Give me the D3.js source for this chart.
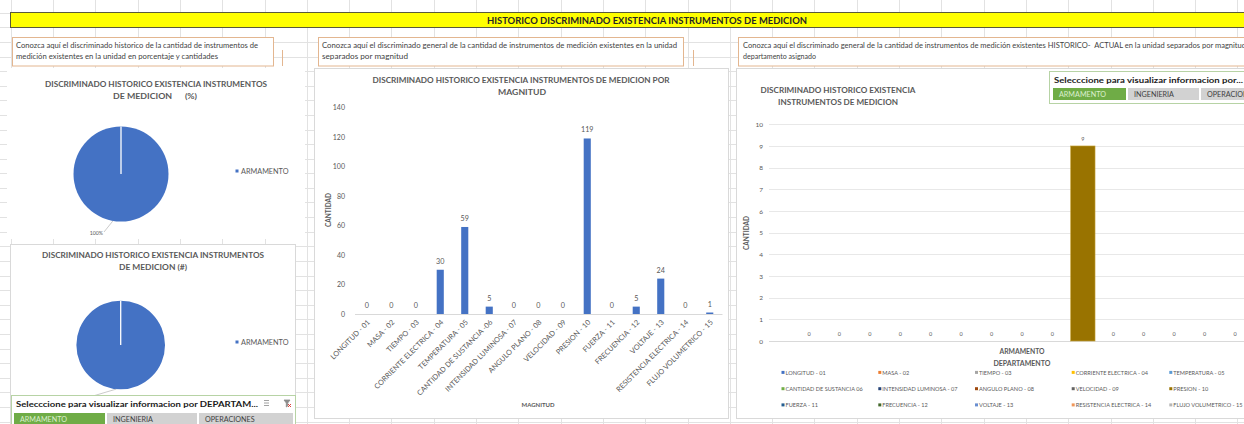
<!DOCTYPE html>
<html><head><meta charset="utf-8">
<script src="https://cdn.jsdelivr.net/npm/d3@7"></script>
<style>
html,body{margin:0;padding:0;background:#fff;overflow:hidden}
svg{display:block;font-family:Lato,"Liberation Sans",sans-serif}
svg text{white-space:pre}
</style></head><body>
<svg id="c" width="1244" height="424"></svg>
<script>
// ---------- DATA ----------
const magnitudes = ["LONGITUD - 01","MASA - 02","TIEMPO - 03","CORRIENTE ELECTRICA - 04","TEMPERATURA - 05","CANTIDAD DE SUSTANCIA -06","INTENSIDAD LUMINOSA - 07","ANGULO PLANO - 08","VELOCIDAD - 09","PRESION - 10","FUERZA - 11","FRECUENCIA - 12","VOLTAJE - 13","RESISTENCIA ELECTRICA - 14","FLUJO VOLUMETRICO - 15"];
const magnitudValues = [0,0,0,30,59,5,0,0,0,119,0,5,24,0,1];
const midTicks = [0,20,40,60,80,100,120,140];

const departamentos = ["ARMAMENTO"];
const seriesLabels = ["LONGITUD - 01","MASA - 02","TIEMPO - 03","CORRIENTE ELECTRICA - 04","TEMPERATURA - 05","CANTIDAD DE SUSTANCIA 06","INTENSIDAD LUMINOSA - 07","ANGULO PLANO - 08","VELOCIDAD - 09","PRESION - 10","FUERZA - 11","FRECUENCIA - 12","VOLTAJE - 13","RESISTENCIA ELECTRICA - 14","FLUJO VOLUMETRICO - 15"];
const deptValues = [0,0,0,0,0,0,0,0,0,9,0,0,0,0,0];
const rightTicks = [0,1,2,3,4,5,6,7,8,9,10];
const seriesColors = ["#4472C4","#ED7D31","#A5A5A5","#FFC000","#5B9BD5","#70AD47","#264478","#9E480E","#636363","#997300","#255E91","#43682B","#698ED0","#F1975A","#B7B7B7"];

const pieLabels = ["ARMAMENTO"];
const piePct = [100];
const pieCount = [243];
const slicerItems = ["ARMAMENTO","INGENIERIA","OPERACIONES"];

// ---------- HELPERS ----------
const svg = d3.select("#c");
function T(sel, x, y, s, o = {}) {
  const t = sel.append("text").attr("x", x).attr("y", y).text(s)
    .attr("font-size", o.size || 7).attr("fill", o.fill || "#595959")
    .attr("text-anchor", o.anchor || "start");
  if (o.bold) t.attr("font-weight", "bold");
  if (o.len) t.attr("textLength", o.len).attr("lengthAdjust", "spacingAndGlyphs");
  return t;
}

// ---------- SPREADSHEET GRID ----------
const grid = svg.append("g").attr("stroke", "#e2e2e2").attr("stroke-width", 1);
d3.range(0, 31).forEach(k => {
  const x = Math.round(10.7 + 42.3 * k) + 0.5;
  grid.append("line").attr("x1", x).attr("x2", x).attr("y1", 0).attr("y2", 424);
});
d3.range(-1, 30).forEach(k => {
  const y = Math.round(12.7 + 14.6 * k) + 0.5;
  grid.append("line").attr("x1", 0).attr("x2", 1244).attr("y1", y).attr("y2", y);
});

// ---------- BANNER ----------
svg.append("rect").attr("x", 10.5).attr("y", 12.5).attr("width", 1240).attr("height", 15)
  .attr("fill", "#ffff00").attr("stroke", "#5a5a3a").attr("stroke-width", 1);
T(svg, 647, 23.5, "HISTORICO DISCRIMINADO EXISTENCIA INSTRUMENTOS DE MEDICION",
  { size: 9.2, bold: true, fill: "#262626", anchor: "middle", len: 320 });

// ---------- TEXT BOXES ----------
const boxStroke = "#e3b690";
[[12.5, 261], [318.5, 365], [738.5, 520]].forEach(([x, w]) => {
  svg.append("rect").attr("x", x).attr("y", 37.5).attr("width", w).attr("height", 28.5)
    .attr("fill", "#fff").attr("stroke", boxStroke);
});
svg.append("line").attr("x1", 282.5).attr("x2", 282.5).attr("y1", 50).attr("y2", 66).attr("stroke", boxStroke);
svg.append("line").attr("x1", 693.5).attr("x2", 693.5).attr("y1", 50).attr("y2", 66).attr("stroke", boxStroke);
const bt = "#3f3f3f";
T(svg, 16, 47.5, "Conozca aquí el discriminado historico de la cantidad de instrumentos de", { size: 7.5, fill: bt, len: 242 });
T(svg, 16, 59, "medición existentes en la unidad en porcentaje y cantidades", { size: 7.5, fill: bt, len: 202 });
T(svg, 322, 47.5, "Conozca aquí el discriminado general de la cantidad de instrumentos de medición existentes en la unidad", { size: 7.5, fill: bt, len: 355 });
T(svg, 322, 59, "separados por magnitud", { size: 7.5, fill: bt, len: 86 });
T(svg, 743, 47.5, "Conozca aquí el discriminado general de la cantidad de instrumentos de medición existentes HISTORICO-  ACTUAL en la unidad separados por magnitud", { size: 7.5, fill: bt, len: 503 });
T(svg, 743, 59, "departamento asignado", { size: 7.5, fill: bt, len: 73 });

// ---------- PANELS ----------
svg.append("rect").attr("x", 7).attr("y", 68).attr("width", 298).attr("height", 171).attr("fill", "#fff");
svg.append("rect").attr("x", 10.5).attr("y", 244.5).attr("width", 285).attr("height", 185).attr("fill", "#fff").attr("stroke", "#d9d9d9");
svg.append("rect").attr("x", 314.5).attr("y", 68.5).attr("width", 414).attr("height", 350).attr("fill", "#fff").attr("stroke", "#d9d9d9");
svg.append("rect").attr("x", 736.5).attr("y", 68.5).attr("width", 520).attr("height", 350).attr("fill", "#fff").attr("stroke", "#d9d9d9");

// ---------- PIE CHARTS ----------
function drawPie(cx, cy, r, values, titleLines, legendY) {
  const g = svg.append("g").attr("transform", `translate(${cx},${cy})`);
  const arcs = d3.pie().sort(null)(values);
  const arc = d3.arc().innerRadius(0).outerRadius(r);
  g.selectAll("path.s").data(arcs).join("path").attr("class", "s")
    .attr("d", arc).attr("fill", (d, i) => seriesColors[i]);
  g.selectAll("line.edge").data(arcs).join("line").attr("class", "edge")
    .attr("x1", 0).attr("y1", 0)
    .attr("x2", d => r * Math.sin(d.startAngle)).attr("y2", d => -r * Math.cos(d.startAngle))
    .attr("stroke", "#fff").attr("stroke-width", 1.3);
  titleLines.forEach(([s, x, y, len]) => T(svg, x, y, s, { size: 7.6, bold: true, fill: "#595959", anchor: "middle", len }));
  pieLabels.forEach((lab, i) => {
    svg.append("rect").attr("x", 235.5).attr("y", legendY - 3.5).attr("width", 3).attr("height", 3).attr("fill", seriesColors[i]);
    T(svg, 241, legendY + 0.5, lab, { size: 7.5, fill: "#595959", len: 47.5 });
  });
  return { g, arcs, r };
}
drawPie(121, 174, 47.5, piePct,
  [["DISCRIMINADO HISTORICO EXISTENCIA INSTRUMENTOS", 156, 86.5, 222], ["DE MEDICION      (%)", 155, 98.5, 84]], 173);
{
  const a = Math.PI + 0.17;
  svg.append("polyline").attr("points", `${121 + 47.5 * Math.sin(a)},${174 - 47.5 * Math.cos(a)} 104,232`)
    .attr("fill", "none").attr("stroke", "#a6a6a6").attr("stroke-width", 0.6);
  T(svg, 103, 234.5, piePct[0] + "%", { size: 5.2, fill: "#595959", anchor: "end" });
}
drawPie(120.7, 345, 44.3, pieCount,
  [["DISCRIMINADO HISTORICO EXISTENCIA INSTRUMENTOS", 153, 258, 222], ["DE MEDICION (#)", 153, 269.5, 68]], 344);
{
  const a = Math.PI + 0.1;
  svg.append("line").attr("x1", 120.7 + 44.3 * Math.sin(a)).attr("y1", 345 - 44.3 * Math.cos(a))
    .attr("x2", 93).attr("y2", 396).attr("stroke", "#a6a6a6").attr("stroke-width", 0.6);
}

// ---------- SLICERS ----------
function slicer(x, y, w, h, header, headerLen, btns, icons) {
  svg.append("rect").attr("x", x + 0.5).attr("y", y + 0.5).attr("width", w).attr("height", h)
    .attr("fill", "#fff").attr("stroke", "#b7d3a5").attr("stroke-width", 1);
  T(svg, x + 5, y + 11.5, header, { size: 8, bold: true, fill: "#1a1a1a", len: headerLen });
  btns.forEach(([bx, bw, by, bh], i) => {
    svg.append("rect").attr("x", bx).attr("y", by).attr("width", bw).attr("height", bh)
      .attr("fill", i === 0 ? "#6fac46" : "#d2d2d2");
    T(svg, bx + 6, by + 8.5, slicerItems[i], { size: 7.2, fill: i === 0 ? "#dbefce" : "#404040" });
  });
  if (icons) {
    const ig = svg.append("g").attr("stroke", "#8c8c8c").attr("stroke-width", 0.8);
    [0, 2.5, 5].forEach(d => ig.append("line").attr("x1", 264).attr("x2", 269).attr("y1", 400.5 + d).attr("y2", 400.5 + d));
    ig.append("path").attr("d", "M284,400 h6 l-2.3,3 v3 l-1.4,1 v-4 z").attr("fill", "#8c8c8c");
    svg.append("path").attr("d", "M288,404 l3,3 M291,404 l-3,3").attr("stroke", "#d9342b").attr("stroke-width", 0.9);
  }
}
slicer(11, 395, 284, 40, "Selecccione para visualizar informacion por DEPARTAM...", 242,
  [[14, 91, 413, 14], [107, 90, 413, 14], [199, 94, 413, 14]], true);
slicer(1049, 71, 210, 32, "Selecccione para visualizar informacion por...", 189,
  [[1053, 73, 88, 12], [1128, 71, 88, 12], [1201, 73, 88, 12]], false);

// ---------- MIDDLE BAR CHART ----------
const xM = d3.scaleBand().domain(magnitudes).range([354.5, 722]).paddingInner(0.71).paddingOuter(0.355);
const yM = d3.scaleLinear().domain([0, 140]).range([314, 107.5]);
T(svg, 521, 82.5, "DISCRIMINADO HISTORICO EXISTENCIA INSTRUMENTOS DE MEDICION POR", { size: 7.6, bold: true, anchor: "middle", len: 297 });
T(svg, 522, 94.5, "MAGNITUD", { size: 7.6, bold: true, anchor: "middle", len: 48 });

const yAxM = svg.append("g").attr("transform", "translate(348,0)")
  .call(d3.axisLeft(yM).tickValues(midTicks).tickSize(0).tickPadding(3));
yAxM.select(".domain").remove();
yAxM.selectAll("text").attr("font-size", 7).attr("fill", "#595959").attr("font-family", "Lato, sans-serif");

const xAxM = svg.append("g").attr("transform", "translate(0,314)")
  .call(d3.axisBottom(xM).tickSize(0).tickSizeOuter(0));
xAxM.select(".domain").attr("stroke", "#d9d9d9");
xAxM.selectAll("text").attr("font-size", 7.3).attr("fill", "#595959").attr("font-family", "Lato, sans-serif")
  .attr("text-anchor", "end").attr("x", 0).attr("y", 0).attr("dy", "0.35em")
  .attr("transform", "translate(2,7) rotate(-45)");

svg.append("g").selectAll("rect").data(magnitudValues).join("rect")
  .attr("x", (d, i) => xM(magnitudes[i])).attr("width", xM.bandwidth())
  .attr("y", d => yM(d)).attr("height", d => 314 - yM(d)).attr("fill", "#4472C4");
svg.append("g").selectAll("text").data(magnitudValues).join("text")
  .attr("x", (d, i) => xM(magnitudes[i]) + xM.bandwidth() / 2).attr("y", d => yM(d) - 6)
  .attr("text-anchor", "middle").attr("font-size", 7.2).attr("fill", "#595959").text(d => d);

svg.append("text").attr("transform", "translate(330.5,210) rotate(-90)").attr("text-anchor", "middle")
  .attr("font-size", 6.5).attr("font-weight", "bold").attr("fill", "#595959").text("CANTIDAD");
T(svg, 538, 407, "MAGNITUD", { size: 6, bold: true, anchor: "middle", len: 33 });

// ---------- RIGHT GROUPED BAR CHART ----------
const x0 = d3.scaleBand().domain(departamentos).range([769, 1275]).paddingOuter(0.047);
const x1 = d3.scaleBand().domain(seriesLabels).range([0, x0.bandwidth()]).padding(0.2);
const yR = d3.scaleLinear().domain([0, 10]).range([341, 124.3]);

T(svg, 838, 92.5, "DISCRIMINADO HISTORICO EXISTENCIA", { size: 7.6, bold: true, anchor: "middle", len: 155 });
T(svg, 838, 104.5, "INSTRUMENTOS DE MEDICION", { size: 7.6, bold: true, anchor: "middle", len: 120 });

svg.append("g").selectAll("line").data(rightTicks).join("line")
  .attr("x1", 769).attr("x2", 1244).attr("y1", d => Math.round(yR(d)) + 0.5).attr("y2", d => Math.round(yR(d)) + 0.5)
  .attr("stroke", d => d === 0 ? "#d9d9d9" : "#e8e8e8").attr("stroke-width", 1);
const yAxR = svg.append("g").attr("transform", "translate(766,0)")
  .call(d3.axisLeft(yR).tickValues(rightTicks).tickSize(0).tickPadding(3));
yAxR.select(".domain").remove();
yAxR.selectAll("text").attr("font-size", 6.5).attr("fill", "#595959").attr("font-family", "Lato, sans-serif");

const grp = svg.append("g").selectAll("g").data(departamentos).join("g")
  .attr("transform", d => `translate(${x0(d)},0)`);
grp.selectAll("rect").data(() => deptValues.map((v, i) => ({ v, i }))).join("rect")
  .attr("x", d => x1(seriesLabels[d.i])).attr("width", x1.bandwidth())
  .attr("y", d => yR(d.v)).attr("height", d => 341 - yR(d.v))
  .attr("fill", d => seriesColors[d.i]).attr("stroke", d => d.v > 0 ? "#c8a43a" : "none").attr("stroke-width", 0.6);
grp.selectAll("text").data(() => deptValues.map((v, i) => ({ v, i }))).join("text")
  .attr("x", d => x1(seriesLabels[d.i]) + x1.bandwidth() / 2).attr("y", d => yR(d.v) - 5)
  .attr("text-anchor", "middle").attr("font-size", 5.5).attr("fill", "#595959").text(d => d.v);

departamentos.forEach(d => {
  T(svg, x0(d) + x0.bandwidth() / 2, 353.5, d, { size: 6.5, bold: true, anchor: "middle", len: 45 });
});
T(svg, 1022, 366, "DEPARTAMENTO", { size: 6.5, bold: true, anchor: "middle", len: 57 });
svg.append("text").attr("transform", "translate(748.5,233) rotate(-90)").attr("text-anchor", "middle")
  .attr("font-size", 6.5).attr("font-weight", "bold").attr("fill", "#595959").text("CANTIDAD");

// legend
const legCols = [781.5, 878.3, 975, 1071.7, 1169.3];
const legRows = [372.7, 389, 405.2];
seriesLabels.forEach((s, i) => {
  const lx = legCols[i % 5], ly = legRows[Math.floor(i / 5)];
  svg.append("rect").attr("x", lx).attr("y", ly - 1.8).attr("width", 3).attr("height", 3).attr("fill", seriesColors[i]);
  T(svg, lx + 4, ly + 2, s, { size: 5.6, fill: "#595959" });
});
</script>
</body></html>
